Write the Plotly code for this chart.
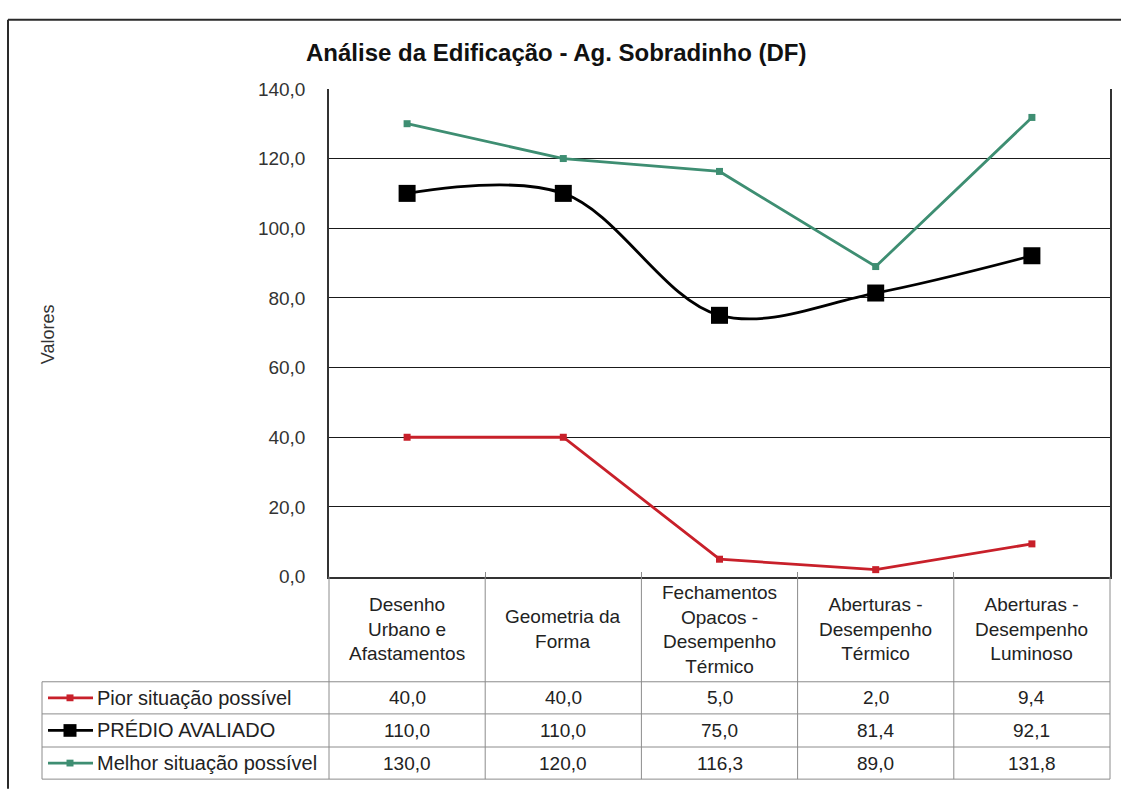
import plotly.graph_objects as go

# ---- data -------------------------------------------------------------
categorias = [
    "Desenho<br>Urbano e<br>Afastamentos",
    "Geometria da<br>Forma",
    "Fechamentos<br>Opacos -<br>Desempenho<br>Térmico",
    "Aberturas -<br>Desempenho<br>Térmico",
    "Aberturas -<br>Desempenho<br>Luminoso",
]
nomes_series = ["Pior situação possível", "PRÉDIO AVALIADO", "Melhor situação possível"]
pior = [40.0, 40.0, 5.0, 2.0, 9.4]
predio = [110.0, 110.0, 75.0, 81.4, 92.1]
melhor = [130.0, 120.0, 116.3, 89.0, 131.8]
y_ticks = [0, 20, 40, 60, 80, 100, 120, 140]

# ---- styling ----------------------------------------------------------
W, H = 1121, 795
FONT = "Liberation Sans, Arial, sans-serif"
TXT = "#222222"
RED = "#C8202A"
GREEN = "#3E8E72"
BLACK = "#000000"
GRID = "#1a1a1a"
TBL = "#8c8c8c"

PLOT_L, PLOT_R, PLOT_T, PLOT_B = 329, 1110, 81, 582
TABLE_L = 42
ROW_LINES = [690, 723, 757, 790]


def fx(p):
    return p / W


def fy(p):
    return 1 - p / H


def fmt(v):
    return f"{v:.1f}".replace(".", ",")


xs = list(range(len(categorias)))
series = [
    dict(y=pior, color=RED, msize=7, width=2.8, shape="linear"),
    dict(y=predio, color=BLACK, msize=17, width=2.8, shape="spline"),
    dict(y=melhor, color=GREEN, msize=7, width=2.8, shape="linear"),
]

fig = go.Figure()
for nome, s in zip(nomes_series, series):
    fig.add_trace(go.Scatter(
        x=xs, y=s["y"], name=nome, mode="lines+markers",
        line=dict(color=s["color"], width=s["width"], shape=s["shape"], smoothing=1.0),
        marker=dict(symbol="square", size=s["msize"], color=s["color"], line=dict(width=0)),
        showlegend=False, cliponaxis=False,
    ))

shapes = []
annotations = []

# outer chart frame
shapes.append(dict(type="line", xref="paper", yref="paper", x0=fx(8), x1=fx(8),
                   y0=fy(10), y1=fy(H + 5), line=dict(color="#2a2a2a", width=2)))
shapes.append(dict(type="line", xref="paper", yref="paper", x0=fx(8), x1=fx(W + 5),
                   y0=fy(10), y1=fy(10), line=dict(color="#2a2a2a", width=2)))

# data table: vertical separators
col_edges = [PLOT_L + i * (PLOT_R - PLOT_L) / len(categorias) for i in range(len(categorias) + 1)]
for xe in col_edges:
    shapes.append(dict(type="line", xref="paper", yref="paper", x0=fx(xe), x1=fx(xe),
                       y0=fy(PLOT_B), y1=fy(ROW_LINES[-1]), line=dict(color=TBL, width=1)))
shapes.append(dict(type="line", xref="paper", yref="paper", x0=fx(TABLE_L), x1=fx(TABLE_L),
                   y0=fy(ROW_LINES[0]), y1=fy(ROW_LINES[-1]), line=dict(color=TBL, width=1)))
# horizontal separators
for yr in ROW_LINES:
    shapes.append(dict(type="line", xref="paper", yref="paper", x0=fx(TABLE_L), x1=fx(PLOT_R),
                       y0=fy(yr), y1=fy(yr), line=dict(color=TBL, width=1)))

# header cells
head_mid = (PLOT_B + ROW_LINES[0]) / 2
for i, cat in enumerate(categorias):
    annotations.append(dict(x=i, xref="x", y=fy(head_mid), yref="paper", text=cat,
                            showarrow=False, font=dict(family=FONT, size=19, color=TXT),
                            align="center", xanchor="center", yanchor="middle"))

# value rows + legend keys
for r, (nome, s) in enumerate(zip(nomes_series, series)):
    yc = (ROW_LINES[r] + ROW_LINES[r + 1]) / 2
    for i, v in enumerate(s["y"]):
        annotations.append(dict(x=i, xref="x", y=fy(yc), yref="paper", text=fmt(v),
                                showarrow=False, font=dict(family=FONT, size=19, color=TXT),
                                xanchor="center", yanchor="middle"))
    annotations.append(dict(x=fx(95), xref="paper", y=fy(yc), yref="paper", text=nome,
                            showarrow=False, font=dict(family=FONT, size=20, color=TXT),
                            xanchor="left", yanchor="middle"))
    shapes.append(dict(type="line", xref="paper", yref="paper", x0=fx(48), x1=fx(93),
                       y0=fy(yc), y1=fy(yc), line=dict(color=s["color"], width=2.8)))
    half = 6.5 if s["color"] == BLACK else 3.5
    shapes.append(dict(type="rect", xref="paper", yref="paper",
                       x0=fx(70 - half), x1=fx(70 + half), y0=fy(yc - half), y1=fy(yc + half),
                       fillcolor=s["color"], line=dict(width=0)))

# title and axis title
annotations.append(dict(x=fx(556), y=fy(44), xref="paper", yref="paper",
                        text="Análise da Edificação - Ag. Sobradinho (DF)", showarrow=False,
                        font=dict(family=FONT, size=24, color="#111111", weight="bold"),
                        xanchor="center", yanchor="middle"))
annotations.append(dict(x=fx(48), y=fy(333), xref="paper", yref="paper", text="Valores",
                        textangle=-90, showarrow=False,
                        font=dict(family=FONT, size=18, color="#333333"),
                        xanchor="center", yanchor="middle"))

fig.update_layout(
    width=W, height=H,
    margin=dict(l=0, r=0, t=0, b=0),
    paper_bgcolor="white", plot_bgcolor="white",
    separators=",.",
    shapes=shapes, annotations=annotations,
    xaxis=dict(
        domain=[fx(PLOT_L), fx(PLOT_R)], range=[-0.5, len(categorias) - 0.5],
        showticklabels=False, showgrid=False, zeroline=False,
        showline=True, linecolor="#333333", linewidth=1.5,
        ticks="inside", ticklen=5, tickcolor=TBL,
        tickvals=[i - 0.5 for i in range(len(categorias) + 1)],
    ),
    yaxis=dict(
        domain=[fy(PLOT_B), fy(PLOT_T)], range=[0, 140],
        tickvals=y_ticks, tickformat=".1f",
        showgrid=True, gridcolor=GRID, gridwidth=1, zeroline=False,
        showline=True, mirror=True, linecolor="#333333", linewidth=1.5,
        ticks="", ticklabelstandoff=18,
        tickfont=dict(family=FONT, size=19, color="#333333"),
    ),
)

fig.write_html("out.html")
